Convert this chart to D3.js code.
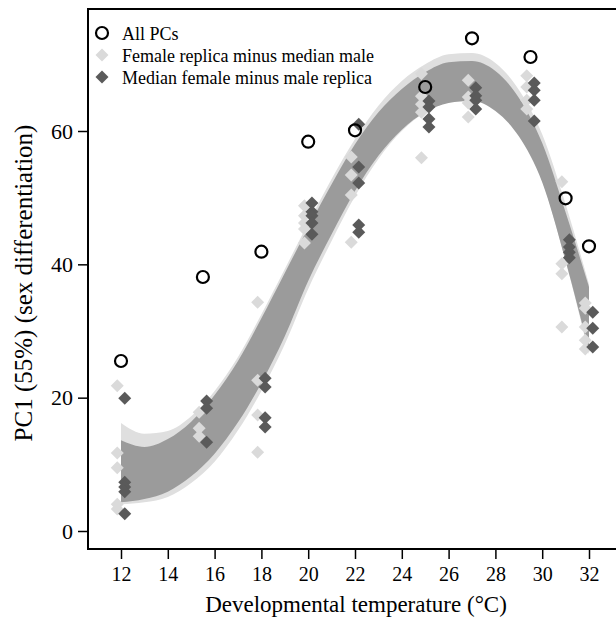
<!DOCTYPE html>
<html>
<head>
<meta charset="utf-8">
<script src="https://cdn.jsdelivr.net/npm/d3@7"></script>
<style>
  html, body { margin: 0; padding: 0; background: #fff; }
  svg { display: block; }
  text { font-family: "Liberation Serif", "Times New Roman", serif; fill: #000; }
</style>
</head>
<body>
<svg id="chart" width="616" height="618"></svg>
<script>
// ---------------- data ----------------
const temps = [12, 15.5, 18, 20, 22, 25, 27, 29.5, 31, 32];
const allPCs = [25.5, 38.1, 41.9, 58.4, 60.1, 66.6, 73.9, 71.1, 49.9, 42.7];

const femaleReplica = [
  [21.8, 11.7, 9.5, 4.0, 3.3],
  [17.8, 15.4, 14.2],
  [34.3, 22.6, 17.4, 11.8],
  [48.8, 47.3, 46.2, 45.3, 43.2],
  [56.1, 53.4, 50.4, 43.3],
  [68.6, 65.2, 64.0, 62.8, 56.0],
  [67.6, 65.1, 64.2, 62.1],
  [68.3, 66.6, 64.6, 63.3],
  [52.4, 40.1, 38.6, 30.6],
  [34.2, 33.4, 30.6, 28.6, 27.3]
];
const femaleMedian = [
  [19.9, 7.3, 6.6, 5.9, 2.6],
  [19.5, 18.4, 13.3],
  [22.9, 21.6, 17.0, 15.6],
  [49.2, 47.9, 47.3, 46.2, 44.5],
  [61.0, 54.6, 52.2, 45.9, 44.8],
  [64.5, 63.6, 61.8, 60.6],
  [66.5, 65.3, 64.6, 63.3],
  [67.2, 66.1, 64.6, 61.5],
  [43.7, 42.6, 41.8, 41.0],
  [32.8, 30.4, 27.6]
];

// confidence bands
const bandTemps = [12, 13, 14, 15, 16, 17, 18, 19, 20, 21, 22, 23, 24, 25, 26, 27, 28, 29, 30, 31, 32];
const darkLo  = [4.3, 4.8, 5.9, 8.2, 11.6, 16.3, 22.2, 29.2, 37.5, 44.5, 51.0, 56.3, 60.2, 62.8, 64.2, 64.5, 63.0, 59.2, 52.3, 40.5, 27.0];
const darkHi  = [13.6, 12.6, 13.8, 16.4, 20.4, 25.5, 31.9, 38.7, 45.5, 52.0, 58.0, 62.8, 66.3, 68.8, 70.3, 70.5, 69.0, 65.0, 58.2, 47.8, 36.6];
const lightLo = [4.0, 4.3, 5.1, 7.2, 10.4, 15.1, 21.0, 28.0, 36.3, 43.5, 50.2, 55.8, 60.0, 62.8, 64.3, 64.7, 63.3, 59.5, 52.5, 40.5, 26.5];
const lightHi = [16.2, 14.6, 15.0, 17.2, 21.0, 26.1, 32.5, 39.3, 46.2, 52.8, 58.8, 63.8, 67.5, 70.0, 71.5, 71.7, 70.2, 66.2, 59.5, 49.0, 37.0];

const xTicks = [12, 14, 16, 18, 20, 22, 24, 26, 28, 30, 32];
const yTicks = [0, 20, 40, 60];
const legendLabels = ["All PCs", "Female replica minus median male", "Median female minus male replica"];

// ---------------- layout ----------------
const svg = d3.select("#chart");
const W = 616;
const plotLeft = 88, plotTop = 9, plotBottom = 549;
const serif = '"Liberation Serif", "Times New Roman", serif';

const x = d3.scaleLinear().domain([12, 32]).range([121, 589]);
const y = d3.scaleLinear().domain([0, 60]).range([531, 131]);

const colLightBand = "#dfdfdf";
const colDarkBand = "#9b9b9b";
const colLightPt = "#dadada";
const colDarkPt = "#5a5a5a";

// bands
const mkArea = (lo, hi) => d3.area()
  .x((d, i) => x(bandTemps[i]))
  .y0((d, i) => y(lo[i]))
  .y1((d, i) => y(hi[i]))
  .curve(d3.curveMonotoneX)(bandTemps);

svg.append("path").attr("d", mkArea(lightLo, lightHi)).attr("fill", colLightBand);
svg.append("path").attr("d", mkArea(darkLo, darkHi)).attr("fill", colDarkBand);

// points
const diamond = d3.symbol().type(d3.symbolSquare).size(84);
const dOff = 0.16;

function drawDiamonds(groups, off, color) {
  const g = svg.append("g");
  groups.forEach((vals, i) => {
    vals.forEach(v => {
      g.append("path")
        .attr("d", diamond())
        .attr("transform", `translate(${x(temps[i] + off)},${y(v)}) rotate(45)`)
        .attr("fill", color);
    });
  });
}
drawDiamonds(femaleReplica, -dOff, colLightPt);
drawDiamonds(femaleMedian, dOff, colDarkPt);

svg.append("g").selectAll("circle").data(temps).join("circle")
  .attr("cx", d => x(d))
  .attr("cy", (d, i) => y(allPCs[i]))
  .attr("r", 6)
  .attr("fill", "none")
  .attr("stroke", "#000")
  .attr("stroke-width", 2.2);

// frame
svg.append("line").attr("x1", plotLeft).attr("x2", W).attr("y1", plotTop).attr("y2", plotTop)
  .attr("stroke", "#000").attr("stroke-width", 2);

// axes
const xAxis = d3.axisBottom(x).tickValues(xTicks).tickSize(10).tickPadding(8).tickSizeOuter(0);
const gx = svg.append("g").attr("transform", `translate(0,${plotBottom})`).call(xAxis);
gx.select(".domain").remove();
gx.append("line").attr("x1", plotLeft).attr("x2", W).attr("y1", 0).attr("y2", 0)
  .attr("stroke", "#000").attr("stroke-width", 2);
gx.selectAll(".tick line").attr("stroke", "#000").attr("stroke-width", 1.5);
gx.selectAll(".tick text").style("font-size", "20px").style("font-family", serif);

const yAxis = d3.axisLeft(y).tickValues(yTicks).tickSize(10).tickPadding(5).tickSizeOuter(0);
const gy = svg.append("g").attr("transform", `translate(${plotLeft},0)`).call(yAxis);
gy.select(".domain").remove();
gy.append("line").attr("x1", 0).attr("x2", 0).attr("y1", plotTop - 1).attr("y2", plotBottom + 1)
  .attr("stroke", "#000").attr("stroke-width", 2);
gy.selectAll(".tick line").attr("stroke", "#000").attr("stroke-width", 1.5);
gy.selectAll(".tick text").style("font-size", "22px").style("font-family", serif);

// titles
svg.append("text").attr("x", 356).attr("y", 612).attr("text-anchor", "middle")
  .style("font-size", "23px").text("Developmental temperature (°C)");
svg.append("text").attr("transform", "translate(32,283) rotate(-90)").attr("text-anchor", "middle")
  .style("font-size", "25px").text("PC1 (55%) (sex differentiation)");

// legend
const lg = svg.append("g");
const ly = [33, 55, 77];
lg.append("circle").attr("cx", 102).attr("cy", ly[0]).attr("r", 6)
  .attr("fill", "none").attr("stroke", "#000").attr("stroke-width", 2.2);
lg.append("path").attr("d", diamond()).attr("transform", `translate(102,${ly[1]}) rotate(45)`).attr("fill", colLightPt);
lg.append("path").attr("d", diamond()).attr("transform", `translate(102,${ly[2]}) rotate(45)`).attr("fill", colDarkPt);
legendLabels.forEach((t, i) => {
  lg.append("text").attr("x", 122).attr("y", ly[i] + 6.5).style("font-size", "18px").text(t);
});
</script>
</body>
</html>
